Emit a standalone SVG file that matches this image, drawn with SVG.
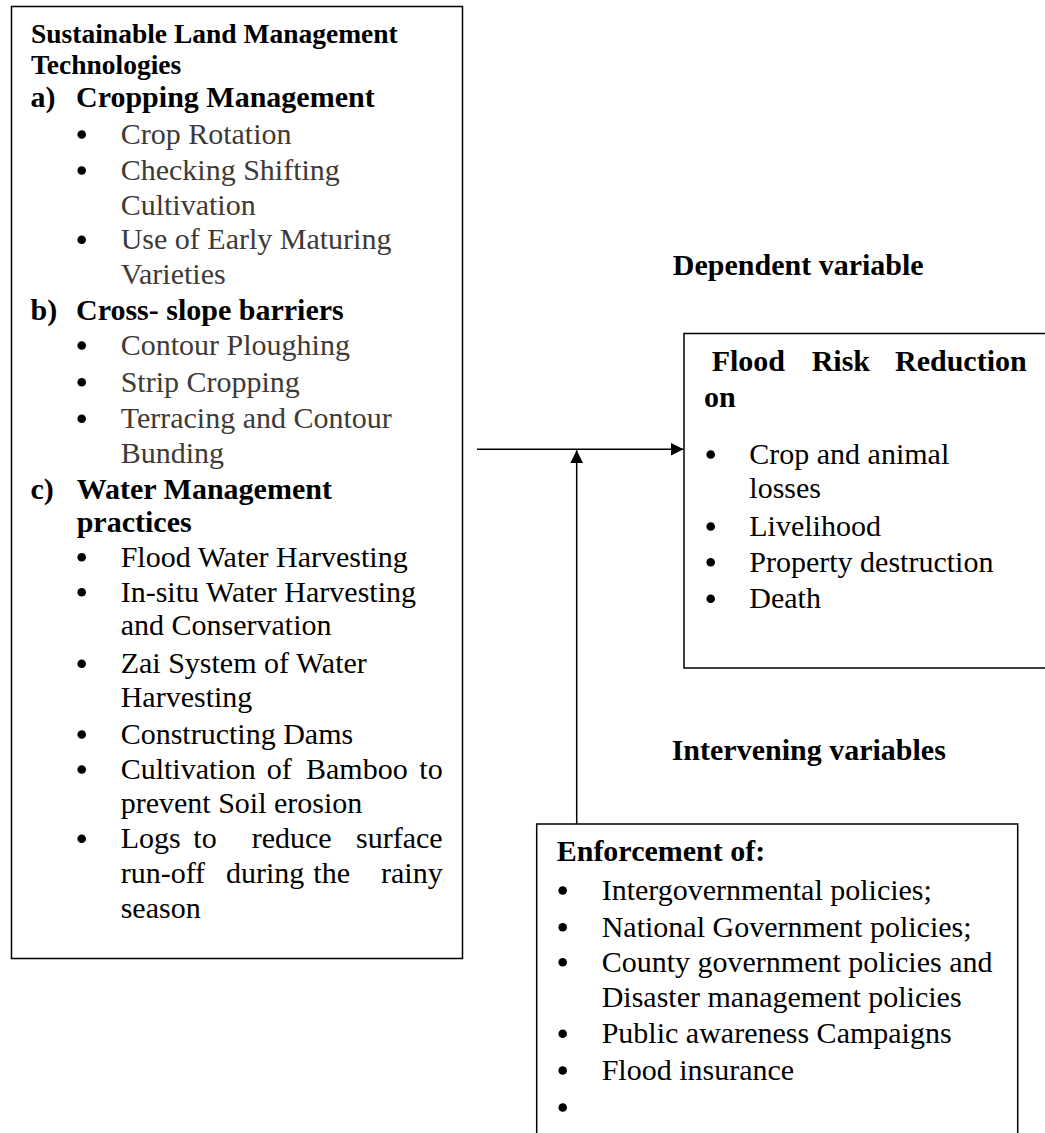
<svg xmlns="http://www.w3.org/2000/svg" width="1045" height="1133" viewBox="0 0 1045 1133">
<style>
text{font-family:"Liberation Serif","Times New Roman",serif;font-size:30px;fill:#000}
.h{font-weight:bold}
.h0{font-weight:bold;font-size:27.5px}
.g{fill:#3d3a38}
.box{fill:#fff;stroke:#000;stroke-width:1.5}
.bul{fill:#000}
.con{stroke:#000;stroke-width:1.5;fill:none}
</style>
<defs>
<marker id="ah" markerWidth="14" markerHeight="14" refX="13" refY="7" orient="auto" markerUnits="userSpaceOnUse">
<path d="M0,0.5 L13,7 L0,13.5 Z" fill="#000"/>
</marker>
</defs>
<rect width="1045" height="1133" fill="#fff"/>

<g id="slm">
<rect class="box" x="11.5" y="6.5" width="451" height="952"/>
<text class="h0" x="31" y="42.7">Sustainable Land Management</text>
<text class="h0" x="31" y="74">Technologies</text>
<text class="h" x="30.5" y="107.3">a)</text>
<text class="h" x="76" y="107.3">Cropping Management</text>
<circle class="bul" cx="81.7" cy="134.5" r="4.3"/>
<text class="g" x="120.7" y="144">Crop Rotation</text>
<circle class="bul" cx="81.7" cy="170.5" r="4.3"/>
<text class="g" x="120.7" y="180">Checking Shifting</text>
<text class="g" x="120.7" y="215">Cultivation</text>
<circle class="bul" cx="81.7" cy="239.8" r="4.3"/>
<text class="g" x="120.7" y="249.3">Use of Early Maturing</text>
<text class="g" x="120.7" y="284">Varieties</text>
<text class="h" x="30.5" y="320">b)</text>
<text class="h" x="76" y="320">Cross- slope barriers</text>
<circle class="bul" cx="81.7" cy="345.5" r="4.3"/>
<text class="g" x="120.7" y="355">Contour Ploughing</text>
<circle class="bul" cx="81.7" cy="382.2" r="4.3"/>
<text class="g" x="120.7" y="391.7">Strip Cropping</text>
<circle class="bul" cx="81.7" cy="418.8" r="4.3"/>
<text class="g" x="120.7" y="428.3">Terracing and Contour</text>
<text class="g" x="120.7" y="463.3">Bunding</text>
<text class="h" x="30.5" y="499.3">c)</text>
<text class="h" x="76.7" y="499.3">Water Management</text>
<text class="h" x="76.7" y="531.7">practices</text>
<circle class="bul" cx="81.7" cy="557.2" r="4.3"/>
<text x="120.7" y="566.7">Flood Water Harvesting</text>
<circle class="bul" cx="81.7" cy="592.2" r="4.3"/>
<text x="120.7" y="601.7">In-situ Water Harvesting</text>
<text x="120.7" y="635">and Conservation</text>
<circle class="bul" cx="81.7" cy="663.8" r="4.3"/>
<text x="120.7" y="673.3">Zai System of Water</text>
<text x="120.7" y="706.7">Harvesting</text>
<circle class="bul" cx="81.7" cy="734.5" r="4.3"/>
<text x="120.7" y="744">Constructing Dams</text>
<circle class="bul" cx="81.7" cy="769.5" r="4.3"/>
<text x="120.7" y="779">Cultivation</text>
<text x="266.7" y="779">of</text>
<text x="306" y="779">Bamboo</text>
<text x="442.7" y="779" text-anchor="end">to</text>
<text x="120.7" y="812.7">prevent Soil erosion</text>
<circle class="bul" cx="81.7" cy="838.8" r="4.3"/>
<text x="120.7" y="848.3">Logs</text>
<text x="193.3" y="848.3">to</text>
<text x="251.7" y="848.3">reduce</text>
<text x="442.7" y="848.3" text-anchor="end">surface</text>
<text x="120.7" y="883.3">run-off</text>
<text x="226" y="883.3">during</text>
<text x="313.3" y="883.3">the</text>
<text x="442.7" y="883.3" text-anchor="end">rainy</text>
<text x="120.7" y="918">season</text>
</g>

<g id="dep-label">
<text class="h" x="672.8" y="275">Dependent variable</text>
</g>

<g id="frr">
<rect class="box" x="684" y="333.5" width="420" height="334.5"/>
<text class="h" x="711.7" y="370.5">Flood</text>
<text class="h" x="811.7" y="370.5">Risk</text>
<text class="h" x="1026.7" y="370.5" text-anchor="end">Reduction</text>
<text class="h" x="704" y="407">on</text>
<circle class="bul" cx="710.7" cy="454.5" r="4.3"/>
<text x="749.3" y="464">Crop and animal</text>
<text x="749.3" y="498.3">losses</text>
<circle class="bul" cx="710.7" cy="526.5" r="4.3"/>
<text x="749.3" y="536">Livelihood</text>
<circle class="bul" cx="710.7" cy="562.2" r="4.3"/>
<text x="749.3" y="571.7">Property destruction</text>
<circle class="bul" cx="710.7" cy="598.8" r="4.3"/>
<text x="749.3" y="608.3">Death</text>
</g>

<g id="int-label">
<text class="h" x="671.7" y="760">Intervening variables</text>
</g>

<g id="enf">
<rect class="box" x="536.7" y="824" width="481" height="340"/>
<text class="h" x="556.7" y="861">Enforcement of:</text>
<circle class="bul" cx="562.7" cy="890.5" r="4.3"/>
<text x="601.7" y="900">Intergovernmental policies;</text>
<circle class="bul" cx="562.7" cy="927.2" r="4.3"/>
<text x="601.7" y="936.7">National Government policies;</text>
<circle class="bul" cx="562.7" cy="962.2" r="4.3"/>
<text x="601.7" y="971.7">County government policies and</text>
<text x="601.7" y="1006.7">Disaster management policies</text>
<circle class="bul" cx="562.7" cy="1033.8" r="4.3"/>
<text x="601.7" y="1043.3">Public awareness Campaigns</text>
<circle class="bul" cx="562.7" cy="1070.5" r="4.3"/>
<text x="601.7" y="1080">Flood insurance</text>
<circle class="bul" cx="562.7" cy="1107.5" r="4.3"/>
</g>

<g id="connectors">
<line class="con" x1="477" y1="449.3" x2="683.5" y2="449.3" marker-end="url(#ah)"/>
<line class="con" x1="576.7" y1="824" x2="576.7" y2="450.3" marker-end="url(#ah)"/>
</g>
</svg>
